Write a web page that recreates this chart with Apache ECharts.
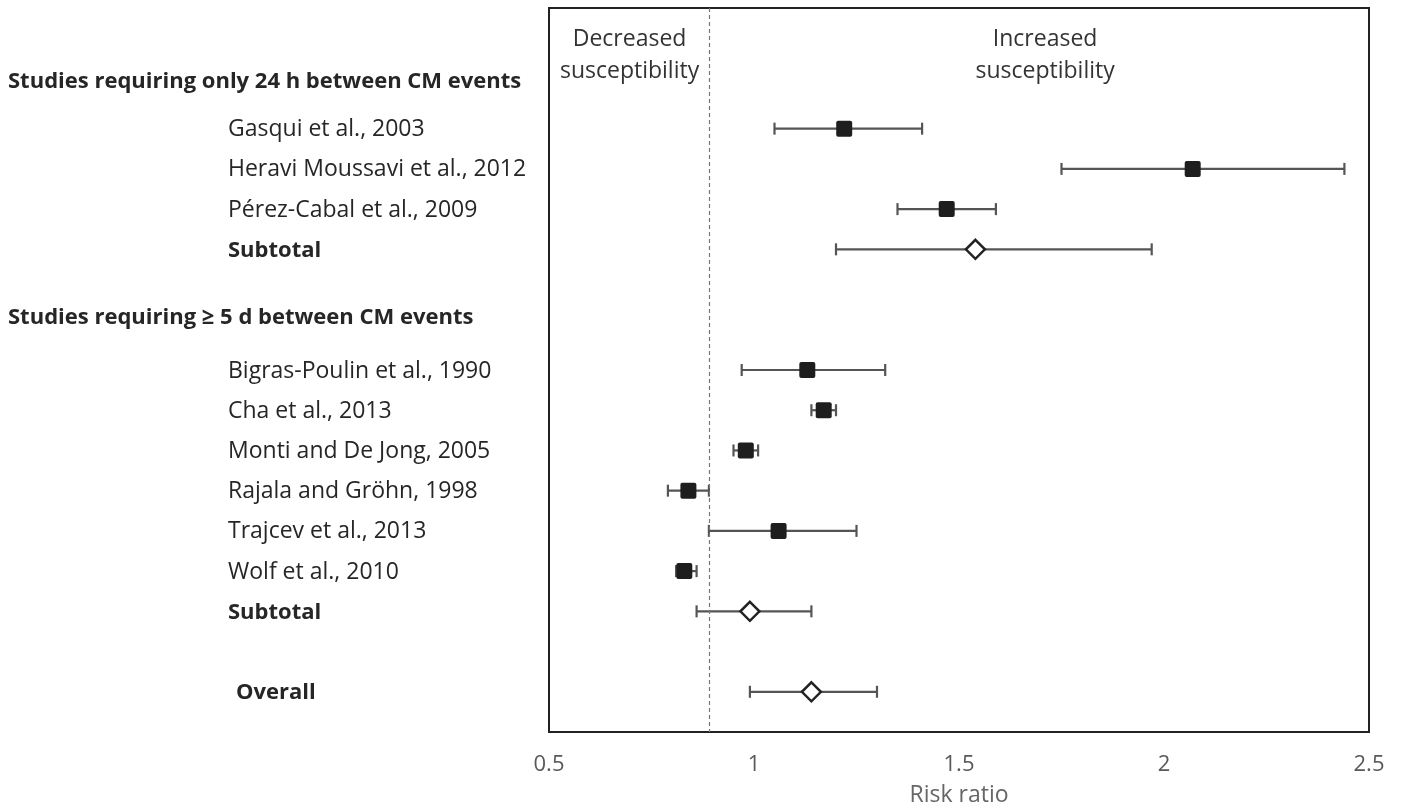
<!DOCTYPE html>
<html>
<head>
<meta charset="utf-8">
<title>Risk ratio forest plot</title>
<script src="https://cdn.jsdelivr.net/npm/echarts@6/dist/echarts.min.js"></script>
<style>
  html, body { margin: 0; padding: 0; background: #fff; }
  #chart { width: 1401px; height: 812px; }
</style>
</head>
<body>
<div id="chart"></div>
<script>
// rows of the forest plot (row index = vertical slot, top to bottom)
const studyNames = [
  'Gasqui et al., 2003', 'Heravi Moussavi et al., 2012', 'Pérez-Cabal et al., 2009',
  'Bigras-Poulin et al., 1990', 'Cha et al., 2013', 'Monti and De Jong, 2005',
  'Rajala and Gröhn, 1998', 'Trajcev et al., 2013', 'Wolf et al., 2010'
];
const studyRows = [0, 1, 2, 6, 7, 8, 9, 10, 11];
const studyRR = [1.22, 2.07, 1.47, 1.13, 1.17, 0.98, 0.84, 1.06, 0.83];
const studyLow = [1.05, 1.75, 1.35, 0.97, 1.14, 0.95, 0.79, 0.89, 0.81];
const studyHigh = [1.41, 2.44, 1.59, 1.32, 1.20, 1.01, 0.89, 1.25, 0.86];

const poolNames = ['Subtotal', 'Subtotal', 'Overall'];
const poolRows = [3, 12, 14];
const poolRR = [1.54, 0.99, 1.14];
const poolLow = [1.20, 0.86, 0.99];
const poolHigh = [1.97, 1.14, 1.30];

const groupNames = ['Studies requiring only 24 h between CM events', 'Studies requiring ≥ 5 d between CM events'];
const groupRows = [-1.2, 4.67];

const refLine = 0.893;
const xTicks = [0.5, 1, 1.5, 2, 2.5];

// build series data
const barData = [];
studyRows.forEach((r, i) => barData.push([studyLow[i], studyHigh[i], r]));
poolRows.forEach((r, i) => barData.push([poolLow[i], poolHigh[i], r]));
const squareData = studyRows.map((r, i) => [studyRR[i], r]);
const diamondData = poolRows.map((r, i) => [poolRR[i], r]);

// text rows: [row, text, kind]
const textRows = [];
groupRows.forEach((r, i) => textRows.push([r, groupNames[i], 'group']));
studyRows.forEach((r, i) => textRows.push([r, studyNames[i], 'study']));
poolRows.forEach((r, i) => textRows.push([r, poolNames[i], i === 2 ? 'overall' : 'pool']));

const chart = echarts.init(document.getElementById('chart'));

const FONT = '"Open Sans", "Liberation Sans", sans-serif';

function renderBar(params, api) {
  const p1 = api.coord([api.value(0), api.value(2)]);
  const p2 = api.coord([api.value(1), api.value(2)]);
  const h = 6;
  const st = { stroke: '#555', lineWidth: 2.2 };
  return {
    type: 'group',
    children: [
      { type: 'line', shape: { x1: p1[0], y1: p1[1], x2: p2[0], y2: p2[1] }, style: st },
      { type: 'line', shape: { x1: p1[0], y1: p1[1] - h, x2: p1[0], y2: p1[1] + h }, style: st },
      { type: 'line', shape: { x1: p2[0], y1: p2[1] - h, x2: p2[0], y2: p2[1] + h }, style: st }
    ]
  };
}

function renderText(params, api) {
  const kind = textRows[params.dataIndex][2];
  const text = textRows[params.dataIndex][1];
  const p = api.coord([0.5, api.value(0)]);
  let dx = 321, weight = 'normal', size = 23;
  if (kind === 'group') { dx = 541; weight = 'bold'; size = 22; }
  if (kind === 'pool') { weight = 'bold'; size = 22; }
  if (kind === 'overall') { dx = 313; weight = 'bold'; size = 22; }
  return {
    type: 'text',
    x: p[0] - dx,
    y: p[1] + 1,
    style: {
      text: text,
      fill: '#262626',
      font: weight + ' ' + size + 'px ' + FONT,
      textAlign: 'left',
      textVerticalAlign: 'middle'
    }
  };
}

// annotation texts inside the plot
const noteTexts = ['Decreased\nsusceptibility', 'Increased\nsusceptibility'];
const noteX = [(0.5 + refLine) / 2, 1.71];
const noteRow = -1.82;

function renderNote(params, api) {
  const p = api.coord([noteX[params.dataIndex], noteRow]);
  return {
    type: 'text',
    x: p[0],
    y: p[1],
    style: {
      text: noteTexts[params.dataIndex],
      fill: '#333',
      font: 'normal 23px ' + FONT,
      lineHeight: 32,
      textAlign: 'center',
      textVerticalAlign: 'middle'
    }
  };
}

const option = {
  animation: false,
  grid: {
    left: 549,
    right: 32,
    top: 8,
    bottom: 79,
    show: true,
    borderColor: '#222',
    borderWidth: 2,
    backgroundColor: '#fff'
  },
  xAxis: {
    type: 'value',
    min: 0.5,
    max: 2.5,
    interval: 0.5,
    name: 'Risk ratio',
    nameLocation: 'middle',
    nameGap: 52,
    nameTextStyle: { color: '#666', fontSize: 23, fontFamily: FONT },
    axisLine: { show: false },
    axisTick: { show: false },
    splitLine: { show: false },
    axisLabel: {
      color: '#595959',
      fontSize: 22,
      fontFamily: FONT,
      margin: 22,
      formatter: v => (xTicks.indexOf(v) >= 0 ? String(v) : '')
    }
  },
  yAxis: {
    type: 'value',
    inverse: true,
    min: -3,
    max: 15,
    show: false
  },
  series: [
    {
      type: 'custom',
      name: 'labels',
      renderItem: renderText,
      data: textRows.map(t => [t[0]]),
      encode: { y: 0 },
      clip: false,
      silent: true,
      z: 5
    },
    {
      type: 'custom',
      name: 'notes',
      renderItem: renderNote,
      data: noteX.map(x => [x]),
      clip: false,
      silent: true,
      z: 5
    },
    {
      type: 'custom',
      name: 'ci',
      renderItem: renderBar,
      data: barData,
      encode: { x: [0, 1], y: 2 },
      z: 3,
      markLine: {
        silent: true,
        symbol: 'none',
        label: { show: false },
        lineStyle: { color: '#777', type: [4, 3], width: 1.2 },
        data: [{ xAxis: refLine }]
      }
    },
    {
      type: 'scatter',
      name: 'studies',
      data: squareData,
      symbol: 'path://M2,0 L14,0 Q16,0 16,2 L16,14 Q16,16 14,16 L2,16 Q0,16 0,14 L0,2 Q0,0 2,0 Z',
      symbolSize: 16,
      itemStyle: { color: '#1e1e1e', opacity: 1 },
      z: 4
    },
    {
      type: 'scatter',
      name: 'pooled',
      data: diamondData,
      symbol: 'diamond',
      symbolSize: [19, 19],
      itemStyle: { color: '#fff', borderColor: '#222', borderWidth: 2.5, opacity: 1 },
      z: 4
    }
  ]
};

chart.setOption(option);
</script>
</body>
</html>
